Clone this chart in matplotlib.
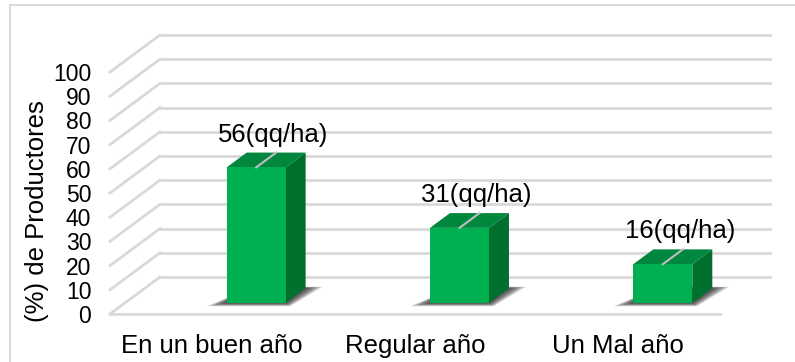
import matplotlib
matplotlib.use("Agg")
import matplotlib.pyplot as plt
from matplotlib.patches import Polygon, Rectangle

plt.rcParams['font.family'] = ['Liberation Sans', 'DejaVu Sans']

categorias = ["En un buen año", "Regular año", "Un Mal año"]
valores = [56, 31, 16]
etiquetas = ["56(qq/ha)", "31(qq/ha)", "16(qq/ha)"]
ticks_y = [0, 10, 20, 30, 40, 50, 60, 70, 80, 90, 100]

# proyeccion oblicua tipo Excel: profundidad 0 = frente, 1 = fondo
DX = 0.2459   # desplazamiento en x por unidad de profundidad (unidades de categoria)
DY = 15.29    # desplazamiento en y por unidad de profundidad (unidades de valor)
ANCHO = 0.29
D0, D1 = 0.3, 0.7

verde = "#00B050"
verde_sup = "#00873D"
verde_lado = "#00702F"
gris = "#D9D9D9"


def p(c, v, d):
    return (c + d * DX, v + d * DY)


fig = plt.figure(figsize=(7.95, 3.62), dpi=100)
ax = fig.add_axes([110 / 795, 48 / 362, 610 / 795, 242 / 362])
ax.set_xlim(-0.5, 2.5)
ax.set_ylim(0, 100)
ax.patch.set_alpha(0)
for s in ax.spines.values():
    s.set_visible(False)

# marco del grafico
fig.patches.append(Rectangle((10 / 795, -0.1), 1.0, 1.1 - 5 / 362, transform=fig.transFigure,
                             fill=False, edgecolor=gris, linewidth=1.5))

# pared del fondo y pared lateral
for v in ticks_y:
    x0, y0 = p(-0.5, v, 1)
    x1, y1 = p(2.5, v, 1)
    ax.plot([x0, x1], [y0, y1], color=gris, lw=2, clip_on=False, zorder=1)
    ax.plot([-0.5, x0], [v, y0], color=gris, lw=2, clip_on=False, zorder=1)
ax.plot([-0.5, 2.5], [0, 0], color=gris, lw=2, clip_on=False, zorder=1)

for i, v in enumerate(valores):
    c0, c1 = i, i + ANCHO
    # sombra difusa en el piso
    n = 8
    for k in range(n):
        e = 0.075 * (1 - k / n)
        ed = 0.09 * (1 - k / n)
        sombra = [p(c0 - e, 0, D0 - ed), p(c1 + e * 0.6, 0, D0 - ed),
                  p(c1 + e, 0, D1 + ed * 0.4), p(c0 + e * 0.3, 0, D1 + ed * 0.4)]
        ax.add_patch(Polygon(sombra, closed=True, facecolor="#1a1a1a", edgecolor="none",
                             alpha=0.15, zorder=2, clip_on=False))
    frente = [p(c0, 0, D0), p(c1, 0, D0), p(c1, v, D0), p(c0, v, D0)]
    lado = [p(c1, 0, D0), p(c1, 0, D1), p(c1, v, D1), p(c1, v, D0)]
    tapa = [p(c0, v, D0), p(c1, v, D0), p(c1, v, D1), p(c0, v, D1)]
    ax.add_patch(Polygon(lado, closed=True, facecolor=verde_lado, edgecolor="none", zorder=3, clip_on=False))
    ax.add_patch(Polygon(tapa, closed=True, facecolor=verde_sup, edgecolor="none", zorder=3, clip_on=False))
    ax.add_patch(Polygon(frente, closed=True, facecolor=verde, edgecolor="none", zorder=4, clip_on=False))

    # linea guia y etiqueta de dato
    xm = (c0 + c1) / 2
    xa, ya = p(xm, v, D0)
    xb, yb = p(xm, v, D1)
    ax.plot([xa, xb], [ya, yb], color="#BFBFBF", lw=1.5, zorder=5, clip_on=False)
    ax.annotate(etiquetas[i], (xb, yb), xytext=(-2, 13), textcoords="offset points",
                ha="center", va="center", fontsize=18.5, color="#000000", zorder=6,
                annotation_clip=False)

    ax.text(i, -16.1, categorias[i], ha="center", va="baseline", fontsize=18.5, color="#000000")

ax.set_xticks([])
ax.set_yticks(ticks_y)
ax.set_yticklabels([str(t) for t in ticks_y], fontsize=16.5, color="#000000")
ax.tick_params(axis="y", length=0, pad=13.5)

fig.text(37 / 795, 1 - 211 / 362, "(%) de Productores", rotation=90, ha="center", va="center",
         fontsize=18.5, color="#000000")

fig.savefig("out.png", dpi=100)
